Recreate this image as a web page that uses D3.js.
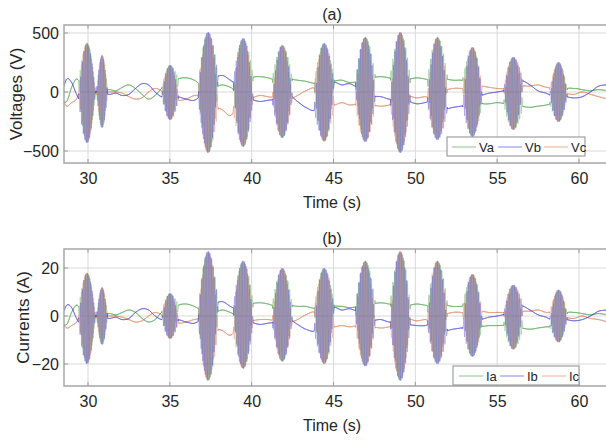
<!DOCTYPE html>
<html><head><meta charset="utf-8">
<script src="https://cdn.jsdelivr.net/npm/d3@7"></script>
<style>
body{margin:0;background:#fff;}
text{font-family:"Liberation Sans",Arial,sans-serif;fill:#262626;}
</style></head>
<body><svg id="c" width="606" height="442"></svg>
<script>
// ---------- data ----------
const xTicks = [30, 35, 40, 45, 50, 55, 60];
const vTicks = [-500, 0, 500];
const iTicks = [-20, 0, 20];
const vSeriesNames = ["Va", "Vb", "Vc"];
const iSeriesNames = ["Ia", "Ib", "Ic"];

// slow (between-burst) waveform knots
const knotTimes = [28.4,28.7,29.0,29.3,29.6,30.4,31.3,31.7,32.1,32.5,32.9,33.3,33.7,34.1,34.5,35.0,35.5,36.0,36.5,36.9,37.7,38.2,38.7,39.1,39.5,40.0,40.5,41.0,41.5,42.3,42.8,43.3,43.9,44.4,45.0,45.5,46.0,46.5,47.4,47.9,48.4,48.8,49.6,50.1,50.6,51.0,51.8,52.3,52.8,53.1,53.5,54.0,54.5,55.0,55.5,56.5,57.0,57.5,58.0,58.3,59.2,59.7,60.2,60.7,61.2,61.8];
const vaKnots = [-70,-80,40,110,60,0,20,10,40,60,30,-20,-60,-30,30,60,110,120,100,60,40,60,40,10,60,120,130,120,100,110,100,90,70,60,90,100,80,90,120,130,120,110,110,120,110,100,110,100,100,90,0,-90,-100,-90,-100,-120,-130,-120,-110,-90,20,30,20,10,20,10];
const vbKnots = [0,110,80,-20,-80,0,-20,-10,-30,-20,30,70,60,0,-40,-30,-40,-60,-70,-20,110,140,100,60,0,-60,-80,-70,-60,-30,-80,-130,-150,0,80,60,70,30,-30,-40,-60,-60,-80,-100,-90,-80,-140,-130,-120,-110,-50,-30,-10,0,20,90,60,10,-10,-30,-40,-50,-40,0,50,60];
const vcKnots = [-60,-120,-90,-60,40,0,0,0,-10,-40,-60,-50,0,30,10,-30,-70,-60,-30,-40,-120,-150,-200,-120,-60,-50,-30,-40,-50,-60,-30,10,30,-80,-110,-90,-110,-100,-110,-120,-110,-80,-40,-50,-40,-50,10,30,30,20,40,50,40,30,30,50,50,60,40,30,-10,-20,0,-20,-40,-60];
const iaKnots = [-3,-3.5,1.5,4.5,2.5,0,1,0.5,1.5,2.5,1.5,-1,-2.5,-1.5,1.5,2.5,4.5,5,4,2.5,1.5,2.5,1.5,0.5,2.5,5,5.5,5,4,4.5,4,4,3,2.5,4,4,3.5,4,5,5.5,5,4.5,4.5,5,4.5,4,4.5,4,4,4,0,-4,-4,-4,-4,-5,-5.5,-5,-4.5,-4,1,1.5,1,0.5,1,0.5];
const ibKnots = [0,4.5,3.5,-1,-3.5,0,-1,-0.5,-1.5,-1,1.5,3,2.5,0,-1.5,-1.5,-1.5,-2.5,-3,-1,4.5,6,4,2.5,0,-2.5,-3.5,-3,-2.5,-1.5,-3.5,-5.5,-6,0,3.5,2.5,3,1.5,-1.5,-1.5,-2.5,-2.5,-3.5,-4,-4,-3.5,-6,-5.5,-5,-4.5,-2,-1.5,-0.5,0,1,4,2.5,0.5,-0.5,-1.5,-1.5,-2,-1.5,0,2,2.5];
const icKnots = [-2.5,-5,-4,-2.5,1.5,0,0,0,-0.5,-1.5,-2.5,-2,0,1.5,0.5,-1.5,-3,-2.5,-1.5,-1.5,-5,-6,-8,-5,-2.5,-2,-1.5,-1.5,-2,-2.5,-1.5,0.5,1.5,-3.5,-4.5,-4,-4.5,-4,-4.5,-5,-4.5,-3.5,-1.5,-2,-1.5,-2,0.5,1.5,1.5,1,1.5,2,1.5,1.5,1.5,2,2,2.5,1.5,1.5,-0.5,-1,0,-1,-1.5,-2.5];

// oscillation bursts: centre time (s), positive / negative peak, half-width (s)
const burstTimes = [29.94,30.86,35.02,37.34,39.48,41.87,44.43,46.94,49.08,51.35,53.49,55.99,58.75];
const burstVTop  = [415,313,229,508,457,398,415,466,508,466,381,297,254];
const burstVBot  = [432,305,237,517,466,390,420,424,517,407,381,322,254];
const burstITop  = [18,12,9.5,27,23,20,20,23,27,23,17.5,13,11];
const burstIBot  = [20,12,9.5,27,22,19,20,21,27,20,17,14,11];
const burstHalfWidth = [0.5,0.32,0.5,0.6,0.6,0.6,0.6,0.6,0.6,0.6,0.58,0.58,0.52];

// ---------- drawing ----------
const colors = ["#3f9f3f", "#3a3ad8", "#e27a52"];
const drawOrder = [0, 2, 1];
const svg = d3.select("#c");
const X0 = 64, X1 = 607;
const x = d3.scaleLinear().domain([30, 60]).range([88, 579]);
const tStart = x.invert(X0), tEnd = x.invert(X1);

function catmull(T, V, t) {
  const n = T.length;
  let i = d3.bisectRight(T, t) - 1;
  i = Math.max(0, Math.min(n - 2, i));
  const p0 = V[Math.max(i - 1, 0)], p1 = V[i], p2 = V[i + 1], p3 = V[Math.min(i + 2, n - 1)];
  let u = (t - T[i]) / (T[i + 1] - T[i]);
  u = Math.max(0, Math.min(1, u));
  return 0.5 * (2 * p1 + (-p0 + p2) * u + (2 * p0 - 5 * p1 + 4 * p2 - p3) * u * u + (-p0 + 3 * p1 - 3 * p2 + p3) * u * u * u);
}

const period = 0.1;
function series(knots, top, bot, k) {
  const pts = [];
  for (let t = tStart; t <= tEnd; t += 0.005) {
    const s = Math.sin(2 * Math.PI * t / period - k * 2 * Math.PI / 3);
    let osc = 0, env = 0;
    for (let j = 0; j < burstTimes.length; j++) {
      const d = Math.abs(t - burstTimes[j]) / burstHalfWidth[j];
      if (d < 1) {
        const e = Math.pow(Math.cos(Math.PI * d / 2), 0.85);
        env += e;
        osc += e * (s >= 0 ? top[j] : bot[j]) * s;
      }
    }
    env = Math.min(1, env);
    pts.push([t, catmull(knotTimes, knots, t) * (1 - env) + osc]);
  }
  return pts;
}

// gaps between bursts (for the crisper slow-waveform layer)
const burstIntervals = burstTimes.map((c, j) => [c - burstHalfWidth[j], c + burstHalfWidth[j]]);
const gaps = [];
{
  let cur = tStart;
  burstIntervals.forEach(([a, b]) => { if (a > cur) gaps.push([cur, a]); cur = Math.max(cur, b); });
  if (cur < tEnd) gaps.push([cur, tEnd]);
}

function panel(cfg) {
  const y = d3.scaleLinear().domain(cfg.domain).range(cfg.range);
  const g = svg.append("g");
  const clipId = "clip" + cfg.id;
  svg.append("clipPath").attr("id", clipId).append("rect")
    .attr("x", X0).attr("y", cfg.top).attr("width", X1 - X0).attr("height", cfg.bottom - cfg.top);
  const gapId = "gap" + cfg.id;
  svg.append("clipPath").attr("id", gapId).selectAll("rect").data(gaps).join("rect")
    .attr("x", d => Math.max(X0, x(d[0]))).attr("y", cfg.top)
    .attr("width", d => Math.min(X1, x(d[1])) - Math.max(X0, x(d[0]))).attr("height", cfg.bottom - cfg.top);
  g.selectAll(".gx").data(xTicks).join("line")
    .attr("x1", d => x(d)).attr("x2", d => x(d)).attr("y1", cfg.top).attr("y2", cfg.bottom)
    .attr("stroke", "#d9d9d9").attr("stroke-width", 1);
  g.selectAll(".gy").data(cfg.ticks).join("line")
    .attr("x1", X0).attr("x2", X1).attr("y1", d => y(d)).attr("y2", d => y(d))
    .attr("stroke", "#d9d9d9").attr("stroke-width", 1);
  const line = d3.line().x(d => x(d[0])).y(d => y(d[1]));
  const dg = g.append("g").attr("clip-path", `url(#${clipId})`);
  const sg = g.append("g").attr("clip-path", `url(#${gapId})`);
  drawOrder.forEach(k => {
    const data = series(cfg.knots[k], cfg.btop, cfg.bbot, k);
    dg.append("path").datum(data)
      .attr("d", line).attr("fill", "none").attr("stroke", colors[k])
      .attr("stroke-width", 0.6).attr("stroke-opacity", 0.5);
    sg.append("path").datum(data)
      .attr("d", line).attr("fill", "none").attr("stroke", colors[k])
      .attr("stroke-width", 1).attr("stroke-opacity", 0.75);
  });
  g.append("path").attr("d", `M${X1},${cfg.top}H${X0}V${cfg.bottom}H${X1}`)
    .attr("fill", "none").attr("stroke", "#a6a6a6").attr("stroke-width", 1.5);
  const xa = d3.axisBottom(x).tickValues(xTicks).tickSize(0).tickPadding(10).tickFormat(d3.format("d"));
  const ax = g.append("g").attr("transform", `translate(0,${cfg.bottom})`).call(xa);
  ax.select(".domain").remove();
  ax.selectAll("text").attr("font-size", 16).attr("dy", "0.71em").style("font-family", '"Liberation Sans",Arial,sans-serif');
  const ya = d3.axisLeft(y).tickValues(cfg.ticks).tickSize(0).tickPadding(5).tickFormat(d3.format("d"));
  const ay = g.append("g").attr("transform", `translate(${X0},0)`).call(ya);
  ay.select(".domain").remove();
  ay.selectAll("text").attr("font-size", 16).style("font-family", '"Liberation Sans",Arial,sans-serif');
  g.selectAll(".tkx").data(xTicks).join("line")
    .attr("x1", d => x(d)).attr("x2", d => x(d)).attr("y1", cfg.bottom).attr("y2", cfg.bottom - 4)
    .attr("stroke", "#9a9a9a");
  g.selectAll(".tkx2").data(xTicks).join("line")
    .attr("x1", d => x(d)).attr("x2", d => x(d)).attr("y1", cfg.top).attr("y2", cfg.top + 4)
    .attr("stroke", "#9a9a9a");
  g.selectAll(".tky").data(cfg.ticks).join("line")
    .attr("x1", X0).attr("x2", X0 + 4).attr("y1", d => y(d)).attr("y2", d => y(d))
    .attr("stroke", "#9a9a9a");
  g.append("text").attr("x", 332).attr("y", cfg.top - 5).attr("text-anchor", "middle")
    .attr("font-size", 16).text(cfg.title);
  g.append("text").attr("x", 332).attr("y", cfg.bottom + 45).attr("text-anchor", "middle")
    .attr("font-size", 16).text("Time (s)");
  g.append("text").attr("transform", `translate(${cfg.ylx},${(cfg.top + cfg.bottom) / 2}) rotate(-90)`)
    .attr("text-anchor", "middle").attr("font-size", 17).text(cfg.ylabel);
  const L = cfg.legend;
  const lg = g.append("g");
  lg.append("rect").attr("x", L.x).attr("y", L.y).attr("width", L.w).attr("height", 19)
    .attr("fill", "#fff").attr("stroke", "#8c8c8c").attr("stroke-width", 1);
  cfg.names.forEach((nm, k) => {
    const lx = L.x + L.offs[k];
    lg.append("line").attr("x1", lx).attr("x2", lx + 24).attr("y1", L.y + 10).attr("y2", L.y + 10)
      .attr("stroke", colors[k]).attr("stroke-opacity", 0.6).attr("stroke-width", 1);
    lg.append("text").attr("x", lx + 27).attr("y", L.y + 14.5).attr("font-size", 13).text(nm);
  });
}

panel({id: "a", domain: [-500, 500], range: [151, 33], top: 25, bottom: 163, ticks: vTicks,
  knots: [vaKnots, vbKnots, vcKnots], btop: burstVTop, bbot: burstVBot,
  title: "(a)", ylabel: "Voltages (V)", ylx: 22, names: vSeriesNames,
  legend: {x: 447, y: 137, w: 138, offs: [5, 51, 97]}});
panel({id: "b", domain: [-20, 20], range: [364, 268], top: 249, bottom: 386, ticks: iTicks,
  knots: [iaKnots, ibKnots, icKnots], btop: burstITop, bbot: burstIBot,
  title: "(b)", ylabel: "Currents (A)", ylx: 29, names: iSeriesNames,
  legend: {x: 453, y: 366, w: 126, offs: [6, 47, 89]}});
</script></body></html>
